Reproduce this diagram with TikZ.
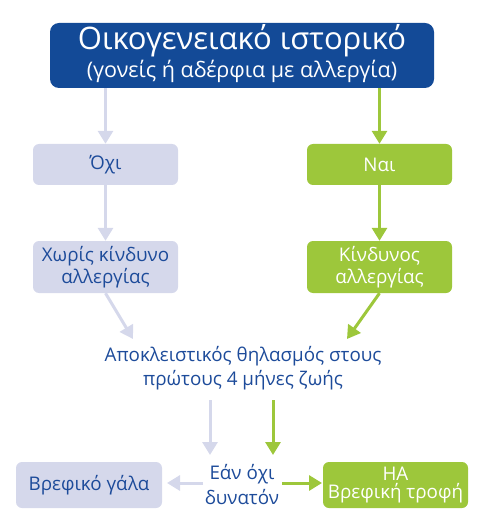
\documentclass[tikz,border=0pt]{standalone}
\usepackage{fontspec}
\setmainfont{Open Sans}
\usetikzlibrary{arrows.meta}
\definecolor{dblue}{HTML}{134A97}
\definecolor{tblue}{HTML}{1D4B9A}
\definecolor{lav}{HTML}{D5D8EB}
\definecolor{lgreen}{HTML}{9DC73B}
\tikzset{
  box/.style={rounded corners=6pt, inner sep=0pt, align=center, minimum width=145pt, font=\fontsize{18.8}{22}\selectfont},
  lavbox/.style={box, fill=lav, text=tblue},
  grbox/.style={box, fill=lgreen, text=white},
  larrow/.style={draw=lav, line width=3pt, -{Triangle[width=15pt,length=13pt]}},
  garrow/.style={draw=lgreen, line width=3pt, -{Triangle[width=15pt,length=13pt]}},
  plain/.style={text=tblue, align=center, inner sep=0pt, font=\fontsize{18.8}{23.5}\selectfont},
  titletext/.style={text=white, inner sep=0pt, anchor=base}
}
\begin{document}
\begin{tikzpicture}[x=1pt,y=-1pt]
\useasboundingbox (0,0) rectangle (483,521);
\node[fill=dblue, rounded corners=9pt, inner sep=0pt, minimum width=384pt, minimum height=65pt] (top) at (242,55.5) {};
\node[titletext, font=\fontsize{31}{31}\selectfont] (t1) at (242,50) {Οικογενειακό ιστορικό};
\node[titletext, font=\fontsize{21.5}{22}\selectfont] (t2) at (242,77.5) {(γονείς ή αδέρφια με αλλεργία)};
\node[lavbox, minimum height=41pt] (oxi) at (105.5,164.5) {Όχι};
\node[grbox, minimum height=41pt] (nai) at (379.5,164.5) {Ναι};
\node[lavbox, minimum height=52pt] (xwris) at (105.5,267) {Χωρίς κίνδυνο\\αλλεργίας};
\node[grbox, minimum height=52pt] (kind) at (379.5,267) {Κίνδυνος\\αλλεργίας};
\node[plain] (mid) at (243,368) {Αποκλειστικός θηλασμός στους\\πρώτους 4 μήνες ζωής};
\node[plain, font=\fontsize{18.8}{25}\selectfont] (ean) at (242,485) {Εάν όχι\\δυνατόν};
\node[lavbox, minimum width=146pt, minimum height=46pt] (gala) at (89,485) {Βρεφικό γάλα};
\node[grbox, minimum height=46pt] (ha) at (395.5,485) {HA\\[-4pt]Βρεφική τροφή};
\coordinate (d1) at (133,339);
\coordinate (d2) at (347,339);
\coordinate (l1) at (210,400);
\coordinate (l2) at (210,455);
\coordinate (g1) at (273,400);
\coordinate (g2) at (273,455);
\coordinate (h1) at (203,483);
\coordinate (h2) at (167,483);
\coordinate (h3) at (282,483);
\coordinate (h4) at (322,483);
\draw[larrow] (top.south -| oxi) -- (oxi.north);
\draw[garrow] (top.south -| nai) -- (nai.north);
\draw[larrow] (oxi.south) -- (xwris.north);
\draw[garrow] (nai.south) -- (kind.north);
\draw[larrow] (xwris.south) -- (d1);
\draw[garrow] (kind.south) -- (d2);
\draw[larrow] (l1) -- (l2);
\draw[garrow] (g1) -- (g2);
\draw[larrow] (h1) -- (h2);
\draw[garrow] (h3) -- (h4);
\end{tikzpicture}
\end{document}
